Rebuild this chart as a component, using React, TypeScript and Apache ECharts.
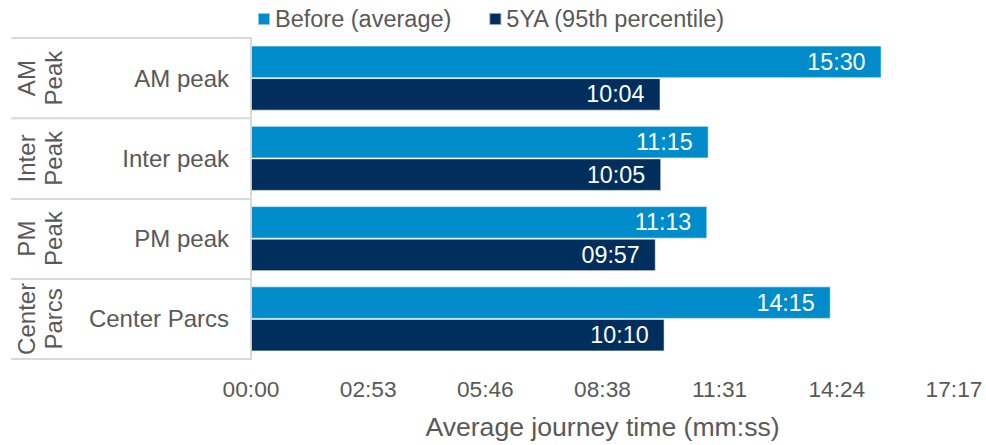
import React, { useEffect, useRef } from "react";
import * as echarts from "echarts";

// Journey time categories (top to bottom) and their group labels
const categories = ["AM peak", "Inter peak", "PM peak", "Center Parcs"];
const groupLabels = ["AM\nPeak", "Inter\nPeak", "PM\nPeak", "Center\nParcs"];

// Journey times in seconds
const beforeAvg = [930, 675, 673, 855]; // 15:30, 11:15, 11:13, 14:15
const fiveYA95 = [604, 605, 597, 610]; // 10:04, 10:05, 09:57, 10:10

const seriesNames = ["Before (average)", "5YA (95th percentile)"];

// Value axis: 0.002-day steps (172.8 s) up to 0.012 days
const xMin = 0;
const xStep = 172.8;
const xMax = 1036.8;
const xTickLabels = ["00:00", "02:53", "05:46", "08:38", "11:31", "14:24", "17:17"];

const FONT = "'Liberation Sans', Arial, Helvetica, sans-serif";
const GREY = "#595959";
const LINE = "#d9d9d9";
const LIGHT_BLUE = "#008bcb";
const NAVY = "#002e5d";

const pad = (n: number) => (n < 10 ? "0" + n : String(n));
const mmss = (sec: number) => {
  const t = Math.round(sec);
  return pad(Math.floor(t / 60)) + ":" + pad(t % 60);
};

export default function App() {
  const ref = useRef<HTMLDivElement>(null);

  useEffect(() => {
    document.body.style.margin = "0";
    if (!ref.current) return;
    const chart = echarts.init(ref.current, undefined, { renderer: "svg" });

    const barLabel = {
      show: true,
      position: "insideRight" as const,
      distance: 16,
      color: "#ffffff",
      fontSize: 23.3,
      fontFamily: FONT,
      formatter: (p: any) => mmss(p.value),
    };

    chart.setOption({
      animation: false,
      textStyle: { fontFamily: FONT },
      legend: {
        left: 257,
        top: 7,
        padding: 0,
        icon: "rect",
        itemWidth: 12,
        itemHeight: 12,
        itemGap: 37,
        textStyle: { fontSize: 23.5, color: GREY, fontFamily: FONT },
        data: seriesNames,
      },
      grid: { left: 251, right: 32, top: 38, bottom: 85 },
      xAxis: {
        type: "value",
        min: xMin,
        max: xMax,
        interval: xStep,
        axisLine: { show: false },
        axisTick: { show: false },
        splitLine: { show: false },
        axisLabel: {
          fontSize: 22.7,
          color: GREY,
          margin: 18,
          formatter: (v: number, i: number) => xTickLabels[i] ?? mmss(v),
        },
        name: "Average journey time (mm:ss)",
        nameLocation: "middle",
        nameGap: 54,
        nameTextStyle: { fontSize: 26.6, color: GREY, fontFamily: FONT },
      },
      yAxis: [
        {
          type: "category",
          data: categories,
          inverse: true,
          axisLine: { show: true, lineStyle: { color: LINE, width: 2 } },
          axisTick: { show: true, length: 240, lineStyle: { color: LINE, width: 2 } },
          axisLabel: { interval: 0, fontSize: 24, color: GREY, margin: 22 },
        },
        {
          type: "category",
          data: categories,
          inverse: true,
          position: "left",
          axisLine: { show: false },
          axisTick: { show: false },
          splitLine: { show: false },
          axisLabel: {
            interval: 0,
            rotate: 90,
            align: "center",
            verticalAlign: "middle",
            fontSize: 24,
            lineHeight: 27,
            color: GREY,
            margin: 211,
            formatter: (_v: string, i: number) => groupLabels[i],
          },
        },
      ],
      series: [
        {
          name: seriesNames[0],
          type: "bar",
          yAxisIndex: 0,
          data: beforeAvg,
          barGap: "0%",
          barCategoryGap: "19%",
          itemStyle: { color: LIGHT_BLUE, borderColor: "rgba(255,255,255,0.55)", borderWidth: 1 },
          label: barLabel,
        },
        {
          name: seriesNames[1],
          type: "bar",
          yAxisIndex: 0,
          data: fiveYA95,
          barGap: "0%",
          barCategoryGap: "19%",
          itemStyle: { color: NAVY, borderColor: "rgba(255,255,255,0.55)", borderWidth: 1 },
          label: barLabel,
        },
      ],
    });

    return () => chart.dispose();
  }, []);

  return <div ref={ref} style={{ width: 986, height: 445 }} />;
}
